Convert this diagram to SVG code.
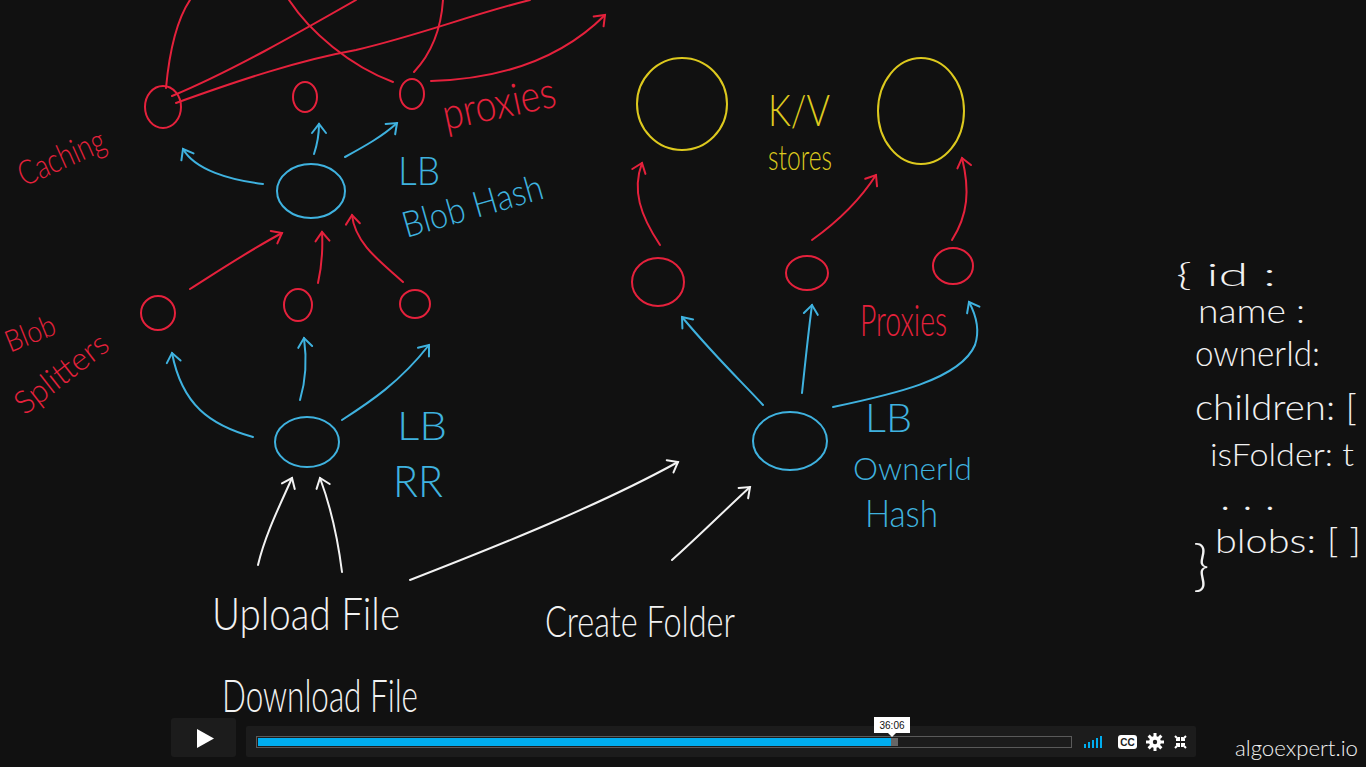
<svg xmlns="http://www.w3.org/2000/svg" width="1366" height="767" viewBox="0 0 1366 767">
<defs>
<style>
.bg{fill:#111111}
.r{stroke:#e5213c;fill:none;stroke-width:2;stroke-linecap:round}
.b{stroke:#3fb2df;fill:none;stroke-width:2;stroke-linecap:round}
.y{stroke:#ddc91e;fill:none;stroke-width:2;stroke-linecap:round}
.w{stroke:#f2f2f2;fill:none;stroke-width:2;stroke-linecap:round}
text{font-family:Lato,"Open Sans","Liberation Sans",sans-serif;font-weight:300}
.tr{fill:#e5213c}
.tb{fill:#3fb2df}
.ty{fill:#ddc91e}
.tw{fill:#f2f2f2}
</style>
<marker id="aR" markerWidth="20" markerHeight="20" refX="12" refY="10" orient="auto" markerUnits="userSpaceOnUse"><path d="M3,3 L12,10 L3,17" fill="none" stroke="#e5213c" stroke-width="2" stroke-linecap="round"/></marker>
<marker id="aB" markerWidth="20" markerHeight="20" refX="12" refY="10" orient="auto" markerUnits="userSpaceOnUse"><path d="M3,3 L12,10 L3,17" fill="none" stroke="#3fb2df" stroke-width="2" stroke-linecap="round"/></marker>
<marker id="aW" markerWidth="20" markerHeight="20" refX="12" refY="10" orient="auto" markerUnits="userSpaceOnUse"><path d="M3,3 L12,10 L3,17" fill="none" stroke="#f2f2f2" stroke-width="2" stroke-linecap="round"/></marker>
</defs>
<rect class="bg" x="0" y="0" width="1366" height="767"/>

<g id="connectors">
<path class="r" d="M166,88 C170,45 178,18 190,0"/>
<path class="r" d="M172,96 C230,72 300,32 356,0"/>
<path class="r" d="M176,103 C240,80 300,60 356,50 C420,35 470,15 530,0"/>
<path class="r" d="M289,0 C310,32 350,66 393,82"/>
<path class="r" d="M443,0 C441,30 430,55 414,72"/>
<path class="r" d="M431,81 C500,79 560,60 605,15" marker-end="url(#aR)"/>
<path class="b" d="M263,184 C230,180 195,170 183,149" marker-end="url(#aB)"/>
<path class="b" d="M314,154 C317,145 319,135 319,124" marker-end="url(#aB)"/>
<path class="b" d="M345,157 C365,146 383,136 397,123" marker-end="url(#aB)"/>
<path class="r" d="M190,289 C220,270 250,250 282,233" marker-end="url(#aR)"/>
<path class="r" d="M318,283 C322,265 323,250 322,232" marker-end="url(#aR)"/>
<path class="r" d="M403,282 C385,265 355,245 352,215" marker-end="url(#aR)"/>
<path class="b" d="M253,437 C210,425 182,405 172,353" marker-end="url(#aB)"/>
<path class="b" d="M300,400 C306,380 307,360 304,338" marker-end="url(#aB)"/>
<path class="b" d="M342,420 C370,402 400,382 429,345" marker-end="url(#aB)"/>
<path class="w" d="M258,565 C265,535 280,505 292,478" marker-end="url(#aW)"/>
<path class="w" d="M342,572 C338,540 330,505 320,478" marker-end="url(#aW)"/>
<path class="w" d="M410,580 C500,545 600,505 678,462" marker-end="url(#aW)"/>
<path class="w" d="M672,560 C700,535 725,510 750,487" marker-end="url(#aW)"/>
<path class="r" d="M660,245 C640,215 632,190 642,163" marker-end="url(#aR)"/>
<path class="r" d="M812,240 C840,220 860,200 876,175" marker-end="url(#aR)"/>
<path class="r" d="M952,240 C968,215 970,190 962,158" marker-end="url(#aR)"/>
<path class="b" d="M763,405 C745,385 718,360 682,317" marker-end="url(#aB)"/>
<path class="b" d="M802,393 C805,365 808,335 812,305" marker-end="url(#aB)"/>
<path class="b" d="M833,407 C890,395 960,380 975,345 C980,330 976,315 969,302" marker-end="url(#aB)"/>
</g>

<g id="caching"><ellipse class="r" cx="163" cy="107" rx="18" ry="21"/></g>
<g id="proxy-top-1"><ellipse class="r" cx="305" cy="97" rx="12" ry="15"/></g>
<g id="proxy-top-2"><ellipse class="r" cx="412" cy="94" rx="12" ry="15"/></g>
<g id="lb-blob-hash"><ellipse class="b" cx="311" cy="191" rx="34" ry="27"/></g>
<g id="splitter-1"><ellipse class="r" cx="158" cy="313" rx="17" ry="17"/></g>
<g id="splitter-2"><ellipse class="r" cx="298" cy="305" rx="14" ry="16"/></g>
<g id="splitter-3"><ellipse class="r" cx="415" cy="304" rx="15" ry="14"/></g>
<g id="lb-rr"><ellipse class="b" cx="307" cy="442" rx="32" ry="25"/></g>
<g id="kv-1"><ellipse class="y" cx="682" cy="104" rx="45" ry="46"/></g>
<g id="kv-2"><ellipse class="y" cx="921" cy="111" rx="43" ry="53"/></g>
<g id="proxy-1"><ellipse class="r" cx="658" cy="282" rx="26" ry="24"/></g>
<g id="proxy-2"><ellipse class="r" cx="807" cy="273" rx="21" ry="17"/></g>
<g id="proxy-3"><ellipse class="r" cx="953" cy="266" rx="20" ry="18"/></g>
<g id="lb-owner"><ellipse class="b" cx="790" cy="441" rx="37" ry="29"/></g>

<g id="labels">
<text class="tr" font-size="34" text-anchor="middle" textLength="92" lengthAdjust="spacingAndGlyphs" transform="translate(66,168) rotate(-24)">Caching</text>
<text class="tr" font-size="44" text-anchor="middle" textLength="115" lengthAdjust="spacingAndGlyphs" transform="translate(502,118) rotate(-12)">proxies</text>
<text class="tb" x="398" y="185" font-size="40" textLength="42" lengthAdjust="spacingAndGlyphs">LB</text>
<text class="tb" font-size="36" text-anchor="middle" textLength="145" lengthAdjust="spacingAndGlyphs" transform="translate(476,218) rotate(-16)">Blob Hash</text>
<text class="tr" font-size="30" text-anchor="middle" textLength="52" lengthAdjust="spacingAndGlyphs" transform="translate(34,343) rotate(-22)">Blob</text>
<text class="tr" font-size="32" text-anchor="middle" textLength="110" lengthAdjust="spacingAndGlyphs" transform="translate(68,382) rotate(-38)">Splitters</text>
<text class="tb" x="397" y="440" font-size="40" textLength="50" lengthAdjust="spacingAndGlyphs">LB</text>
<text class="tb" x="393" y="497" font-size="44" textLength="50" lengthAdjust="spacingAndGlyphs">RR</text>
<text class="ty" x="768" y="126" font-size="44" textLength="62" lengthAdjust="spacingAndGlyphs">K/V</text>
<text class="ty" x="768" y="170" font-size="36" textLength="64" lengthAdjust="spacingAndGlyphs">stores</text>
<text class="tr" x="860" y="336" font-size="44" textLength="87" lengthAdjust="spacingAndGlyphs">Proxies</text>
<text class="tb" x="865" y="432" font-size="40" textLength="47" lengthAdjust="spacingAndGlyphs">LB</text>
<text class="tb" x="853" y="480" font-size="32" textLength="119" lengthAdjust="spacingAndGlyphs">OwnerId</text>
<text class="tb" x="865" y="527" font-size="38" textLength="73" lengthAdjust="spacingAndGlyphs">Hash</text>
<text class="tw" x="212" y="630" font-size="46" textLength="188" lengthAdjust="spacingAndGlyphs">Upload File</text>
<text class="tw" x="222" y="712" font-size="46" textLength="196" lengthAdjust="spacingAndGlyphs">Download File</text>
<text class="tw" x="545" y="637" font-size="44" textLength="190" lengthAdjust="spacingAndGlyphs">Create Folder</text>
</g>

<g id="json">
<text class="tw" x="1176" y="286" font-size="32" textLength="100" lengthAdjust="spacingAndGlyphs">{ id :</text>
<text class="tw" x="1198" y="323" font-size="34" textLength="107" lengthAdjust="spacingAndGlyphs">name :</text>
<text class="tw" x="1195" y="366" font-size="36" textLength="125" lengthAdjust="spacingAndGlyphs">ownerId:</text>
<text class="tw" x="1195" y="420" font-size="36" textLength="162" lengthAdjust="spacingAndGlyphs">children: [</text>
<text class="tw" x="1210" y="466" font-size="32" textLength="144" lengthAdjust="spacingAndGlyphs">isFolder: t</text>
<text class="tw" x="1220" y="510" font-size="36" textLength="55" lengthAdjust="spacingAndGlyphs">. . .</text>
<text class="tw" x="1215" y="553" font-size="34" textLength="146" lengthAdjust="spacingAndGlyphs">blobs: [ ]</text>
<text class="tw" x="1193" y="585" font-size="56">}</text>
</g>

<g id="player">
<rect x="171" y="718" width="65" height="39" rx="3" fill="#1c1c1c"/>
<path d="M197,729 L214,738.5 L197,748 Z" fill="#ffffff"/>
<rect x="246" y="726" width="950" height="31" rx="2" fill="#1c1c1c"/>
<rect x="256.5" y="736.5" width="815" height="11" fill="#1c1c1c" stroke="#5a5a5a" stroke-width="1"/>
<rect x="258" y="738" width="633" height="8" fill="#00adef"/>
<rect x="891" y="738" width="7" height="8" fill="#666666"/>
<rect x="874" y="717" width="36" height="16" fill="#ffffff"/>
<path d="M888,733 L892,737 L896,733 Z" fill="#ffffff"/>
<text x="892" y="729" font-size="10" text-anchor="middle" fill="#111111" style="font-family:'Liberation Sans',sans-serif;font-weight:400">36:06</text>
<g fill="#00adef">
<rect x="1084" y="744" width="2" height="4"/>
<rect x="1088" y="742" width="2" height="6"/>
<rect x="1092" y="740" width="2" height="8"/>
<rect x="1096" y="738" width="2" height="10"/>
<rect x="1100" y="736" width="2" height="12"/>
</g>
<rect x="1118" y="735" width="19" height="14" rx="3" fill="#ffffff"/>
<text x="1127.5" y="746" font-size="10" text-anchor="middle" fill="#1c1c1c" style="font-family:'Liberation Sans',sans-serif;font-weight:700">CC</text>
<circle cx="1155" cy="742" r="6" fill="#ffffff"/>
<g stroke="#ffffff" stroke-width="3"><path d="M1155,733 V751 M1146,742 H1164 M1148.6,735.6 L1161.4,748.4 M1161.4,735.6 L1148.6,748.4"/></g>
<circle cx="1155" cy="742" r="2.2" fill="#1c1c1c"/>
<g stroke="#ffffff" stroke-width="2" fill="none"><path d="M1175,736 L1179,740 M1186,736 L1182,740 M1175,748 L1179,744 M1186,748 L1182,744"/><path d="M1179,737 V740 H1176 M1182,737 V740 H1185 M1179,747 V744 H1176 M1182,747 V744 H1185"/></g>
<text x="1235" y="756" font-size="22" fill="#f2f2f2" textLength="123" lengthAdjust="spacingAndGlyphs">algoexpert.io</text>
</g>
</svg>
